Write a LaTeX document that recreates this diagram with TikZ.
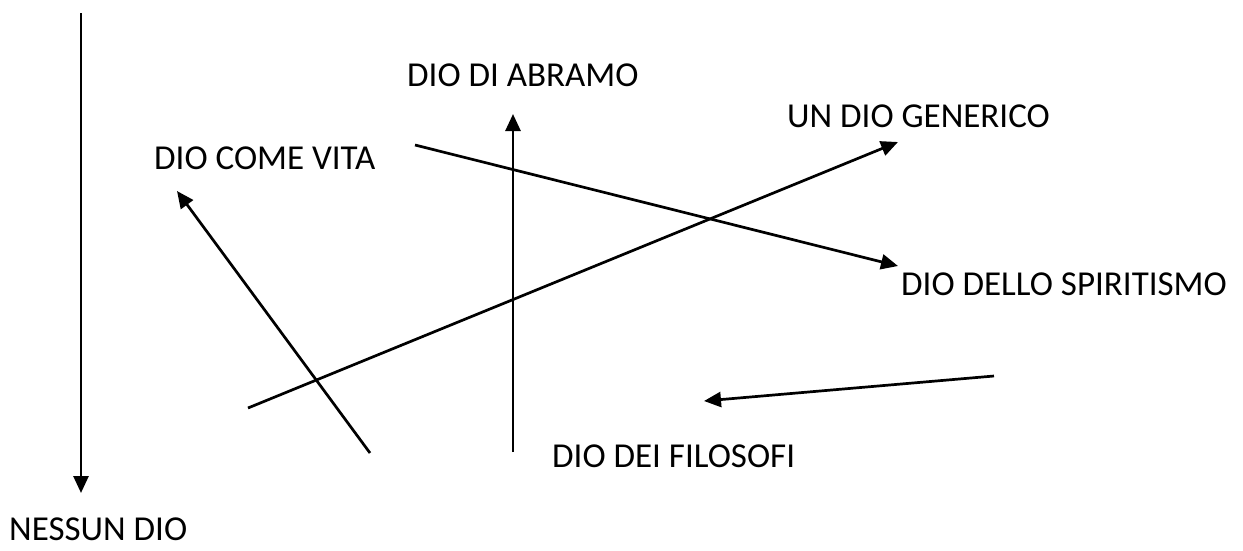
\documentclass[tikz,border=0pt]{standalone}
\usepackage{fontspec}
\setmainfont{Carlito}
\usetikzlibrary{arrows.meta}
\begin{document}
\begin{tikzpicture}[x=1pt,y=-1pt,
  lbl/.style={anchor=west,inner sep=0pt,font=\fontsize{35}{42}\selectfont},
  arr/.style={line width=2.7pt,-{Triangle[length=17pt,width=15pt]}}]
\useasboundingbox (0,0) rectangle (1243,550);
\node[lbl] (abramo) at (407,75) {DIO DI ABRAMO};
\node[lbl] (vita) at (154,158) {DIO COME VITA};
\node[lbl] (generico) at (787,116) {UN DIO GENERICO};
\node[lbl] (spiritismo) at (901,284) {DIO DELLO SPIRITISMO};
\node[lbl] (filosofi) at (552,456) {DIO DEI FILOSOFI};
\node[lbl] (nessun) at (9,529) {NESSUN DIO};
\coordinate (a1) at (81,13);   \coordinate (a2) at (81,493);
\coordinate (b1) at (370,453); \coordinate (b2) at (177,191);
\coordinate (c1) at (513,452); \coordinate (c2) at (513,114);
\coordinate (d1) at (248,408); \coordinate (d2) at (898,142);
\coordinate (e1) at (415,145); \coordinate (e2) at (898,266);
\coordinate (f1) at (994,376); \coordinate (f2) at (704,401);
\draw[arr] (a1) -- (a2);
\draw[arr] (b1) -- (b2);
\draw[arr] (c1) -- (c2);
\draw[arr] (d1) -- (d2);
\draw[arr] (e1) -- (e2);
\draw[arr] (f1) -- (f2);
\end{tikzpicture}
\end{document}
